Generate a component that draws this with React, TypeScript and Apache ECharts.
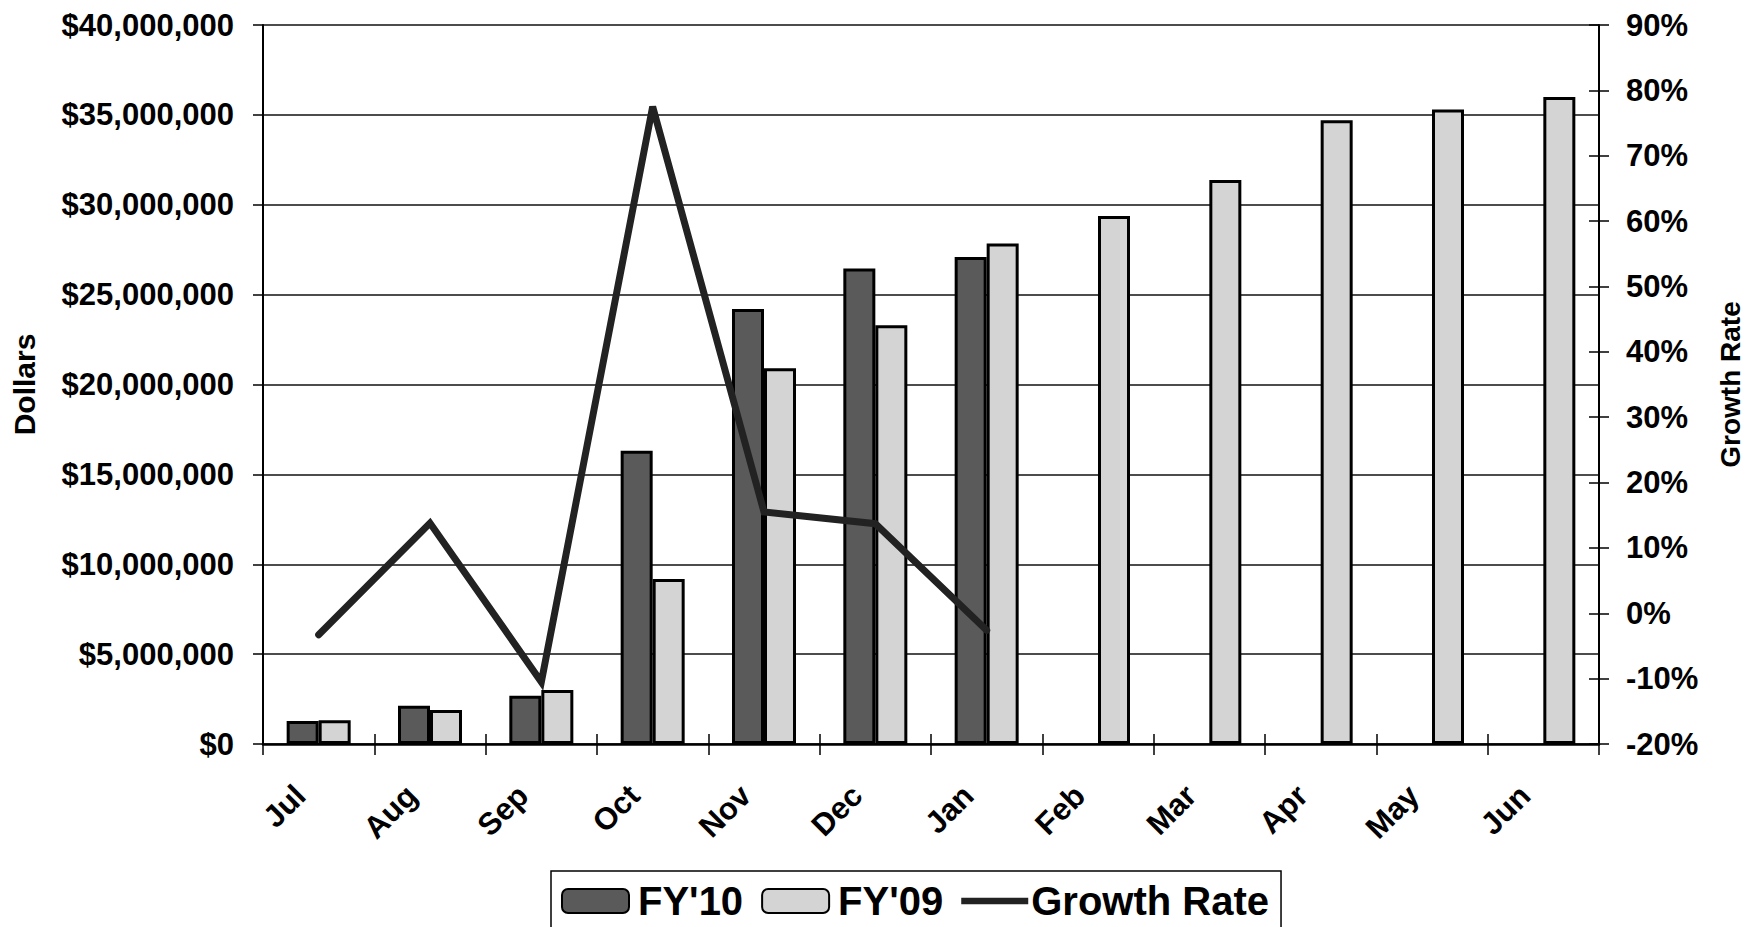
import React, { useEffect, useRef } from "react";
import * as echarts from "echarts";

const months = ["Jul", "Aug", "Sep", "Oct", "Nov", "Dec", "Jan", "Feb", "Mar", "Apr", "May", "Jun"];
const fy10 = [1280000, 2130000, 2690000, 16310000, 24200000, 26460000, 27100000, null, null, null, null, null];
const fy09 = [1320000, 1890000, 3000000, 9180000, 20900000, 23300000, 27850000, 29370000, 31370000, 34700000, 35300000, 36000000];
const growth = [-3.3, 13.8, -10.5, 77.5, 15.5, 13.7, -2.6, null, null, null, null, null];

const FONT = '"Liberation Sans", Arial, sans-serif';

export default function App() {
  const ref = useRef<HTMLDivElement>(null);
  useEffect(() => {
    document.body.style.margin = "0";
    const chart = echarts.init(ref.current!, null, { renderer: "svg" });
    chart.setOption({
      animation: false,
      backgroundColor: "#ffffff",
      textStyle: { fontFamily: FONT },
      grid: { left: 263, right: 156, top: 25, bottom: 183, containLabel: false, outerBoundsMode: "none" },
      legend: {
        left: 551,
        top: 871,
        orient: "horizontal",
        itemWidth: 67,
        itemHeight: 24,
        itemGap: 18,
        symbolKeepAspect: true,
        padding: [10, 12, 40, 10],
        borderColor: "#000",
        borderWidth: 1.5,
        textStyle: { fontSize: 40, fontWeight: "bold", color: "#000", fontFamily: FONT, padding: [0, 0, 0, 4] },
        data: [
          { name: "FY'10" },
          { name: "FY'09" },
          {
            name: "Growth Rate",
            icon: "path://M0,0 L70,0 L70,7 L0,7 Z",
            itemStyle: { color: "#222" },
            textStyle: { padding: [0, 0, 0, -2] },
          },
        ],
      },
      xAxis: [
        {
          type: "category",
          data: months,
          axisLine: { onZero: false, lineStyle: { color: "#000", width: 2.5 } },
          axisTick: { show: true, length: 11, lineStyle: { color: "#000", width: 1.5 } },
          axisLabel: {
            rotate: 45,
            margin: 28,
            padding: [0, 26, 0, 0],
            fontSize: 31,
            fontWeight: "bold",
            color: "#000",
            fontFamily: FONT,
          },
          splitLine: { show: false },
        },
        {
          type: "category",
          data: months,
          position: "bottom",
          axisLine: { show: false, onZero: false },
          axisTick: { show: true, inside: true, length: 10, lineStyle: { color: "#000", width: 1.5 } },
          axisLabel: { show: false },
          splitLine: { show: false },
        },
      ],
      yAxis: [
        {
          type: "value",
          min: 0,
          max: 40000000,
          interval: 5000000,
          name: "Dollars",
          nameLocation: "middle",
          nameRotate: 90,
          nameGap: 224,
          nameMoveOverlap: false,
          nameTextStyle: { fontSize: 30, fontWeight: "bold", color: "#000", fontFamily: FONT },
          axisLine: { show: true, onZero: false, lineStyle: { color: "#000", width: 2 } },
          axisTick: { show: true, length: 10, lineStyle: { color: "#000", width: 1.5 } },
          axisLabel: {
            margin: 29,
            fontSize: 31,
            fontWeight: "bold",
            color: "#000",
            fontFamily: FONT,
            formatter: (v: number) => "$" + v.toLocaleString("en-US"),
          },
          splitLine: { show: true, lineStyle: { color: "#111", width: 1.5 } },
        },
        {
          type: "value",
          min: -20,
          max: 90,
          interval: 10,
          name: "Growth Rate",
          nameLocation: "middle",
          nameRotate: 90,
          nameGap: 117,
          nameMoveOverlap: false,
          nameTextStyle: { fontSize: 28, fontWeight: "bold", color: "#000", fontFamily: FONT },
          axisLine: { show: true, onZero: false, lineStyle: { color: "#000", width: 2 } },
          axisTick: { show: true, length: 10, lineStyle: { color: "#000", width: 1.5 } },
          axisLabel: {
            margin: 27,
            fontSize: 31,
            fontWeight: "bold",
            color: "#000",
            fontFamily: FONT,
            formatter: (v: number) => v + "%",
          },
          splitLine: { show: false },
        },
        {
          type: "value",
          min: -20,
          max: 90,
          interval: 10,
          position: "right",
          axisLine: { show: false, onZero: false },
          axisTick: { show: true, inside: true, length: 10, lineStyle: { color: "#000", width: 1.5 } },
          axisLabel: { show: false },
          splitLine: { show: false },
        },
      ],
      series: [
        {
          name: "FY'10",
          type: "bar",
          data: fy10,
          barWidth: 32,
          barGap: "0%",
          itemStyle: { color: "#5a5a5a", borderColor: "#000", borderWidth: 3 },
        },
        {
          name: "FY'09",
          type: "bar",
          data: fy09,
          barWidth: 32,
          barGap: "0%",
          itemStyle: { color: "#d4d4d4", borderColor: "#000", borderWidth: 3 },
        },
        {
          name: "Growth Rate",
          type: "line",
          yAxisIndex: 1,
          data: growth,
          showSymbol: false,
          symbol: "none",
          z: 5,
          lineStyle: { color: "#222", width: 7, join: "miter", miterLimit: 10, cap: "round" },
          itemStyle: { color: "#222" },
        },
      ],
    });
    return () => chart.dispose();
  }, []);
  return <div ref={ref} style={{ position: "fixed", left: 0, top: 0, width: 1755, height: 927 }} />;
}
